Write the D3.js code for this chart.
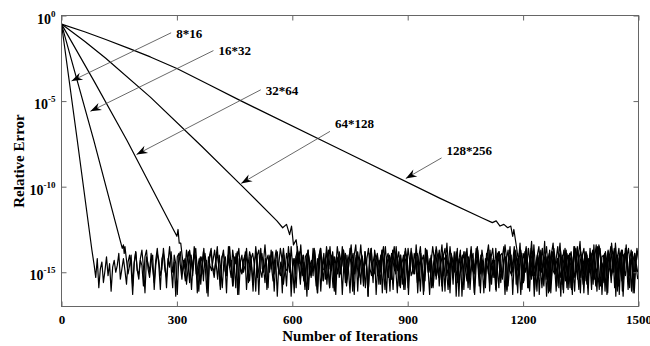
<!DOCTYPE html>
<html>
<head>
<meta charset="utf-8">
<script src="https://cdn.jsdelivr.net/npm/d3@7"></script>
<style>
  body { margin: 0; background: #fff; }
  svg { display: block; }
  text { font-family: "Liberation Serif", "Times New Roman", serif; font-weight: bold; fill: #000; }
</style>
</head>
<body>
<svg id="chart" width="650" height="346"></svg>
<script>
// ---- data -------------------------------------------------------------
const gridNames = ["8*16", "16*32", "32*64", "64*128", "128*256"];
const xTickValues = [0, 300, 600, 900, 1200, 1500];
const yTickExponents = [0, -5, -10, -15];

// convergence phase: [iteration, log10(relative error)]
const decay8x16   = [[0, -0.5], [41, -7.29], [79, -13.7]];
const decay16x32  = [[0, -0.5], [84, -7.29], [158, -13.6], [161, -13.4], [163, -13.9]];
const decay32x64  = [[0, -0.5], [85, -3.85], [170, -7.29], [300, -12.9], [303, -12.5], [306, -13.3]];
const decay64x128 = [[0, -0.5], [60, -1.5], [115, -2.5], [231, -4.77], [365, -7.65], [469, -9.95],
                     [560, -12.0], [575, -12.4], [585, -12.2], [593, -12.8], [598, -12.3], [603, -13.4]];
const decay128x256 = [[0, -0.5], [60, -0.95], [115, -1.4], [175, -1.92], [231, -2.42], [300, -3.1],
                      [380, -4.0], [464, -4.96], [729, -7.87], [983, -10.67], [1095, -11.84], [1120, -12.1],
                      [1130, -12.0], [1140, -12.3], [1150, -12.2], [1160, -12.4], [1168, -12.3],
                      [1173, -12.9], [1176, -12.5]];

// round-off plateau: exponent magnitudes (error = 10^-v), one sample every 4 iterations
const floorStep = 4;
const floorStart = [85, 165, 310, 610, 1180];
const floor8x16 = [
  14.6,15.3,14.2,15.9,14.8,14.4,15.6,14.9,14.1,15.2,14.5,16.1,14.7,14.3,15.0,14.6,13.9,15.4,14.8,14.2,
  14.9,15.7,14.4,14.0,14.7,16.3,14.5,13.8,14.9,15.1,14.3,14.6,15.8,14.1,13.7,14.8,15.3,14.4,14.0,16.0,
  14.6,13.9,14.3,15.2,14.8,13.6,14.5,15.9,14.2,14.7,13.8,15.0,14.4,16.4,14.1,13.9,14.6,15.4,14.3,14.8,
  13.7,14.5,15.6,14.0,14.9,13.5,14.2,16.2,14.6,14.1,15.1,13.8,14.7,14.3,15.7,14.0,13.6,14.8,15.3,14.4,
  13.9,14.6,16.0,14.2,13.7,14.9,15.2,14.3,13.5,14.7,15.8,14.1,14.5,13.8,16.3,14.4,14.0,15.0,14.6,13.6,
  14.8,15.5,14.2,13.9,14.5,16.1,14.0,13.7,14.9,15.3,14.4,13.4,14.6,15.9,14.1,14.8,13.8,15.1,14.3,16.4,
  14.5,13.6,14.2,15.7,14.9,13.9,14.4,15.0,13.5,14.7,16.2,14.1,13.8,14.6,15.4,14.3,14.0,15.8,14.5,13.7,
  14.9,15.2,14.2,13.6,14.7,16.0,14.4,13.9,15.5,14.1,14.8,13.5,14.3,15.9,14.6,13.8,14.9,16.3,14.2,14.0,
  15.1,14.5,13.7,14.8,15.6,14.3,13.9,14.6,16.1,14.0,13.4,14.7,15.3,14.4,14.1,15.8,13.8,14.5,16.4,14.2,
  13.6,14.9,15.0,14.3,13.9,14.6,15.7,14.1,13.5,14.8,16.2,14.4,14.0,15.4,13.7,14.6,15.1,14.2,13.8,15.9,
  14.5,14.0,16.0,14.7,13.6,14.3,15.2,14.9,13.9,14.4,15.6,14.1,13.5,14.8,16.3,14.2,13.8,15.0,14.6,14.0,
  15.8,14.4,13.7,14.9,15.3,14.2,13.4,14.6,16.1,14.0,14.7,15.5,13.9,14.3,15.0,14.8,13.6,16.4,14.5,14.1,
  15.2,13.8,14.6,15.9,14.3,13.7,14.9,15.1,14.0,13.5,14.5,16.2,14.2,14.8,15.4,13.9,14.4,15.7,14.1,13.6,
  14.7,16.0,14.3,13.8,14.9,15.3,14.5,13.4,14.2,15.8,14.6,14.0,16.3,14.4,13.7,14.8,15.0,14.1,13.9,15.6,
  14.5,13.6,14.9,16.1,14.2,13.8,14.6,15.2,14.0,13.5,14.7,15.9,14.3,14.1,16.4,14.8,13.7,15.4,14.4,14.0,
  15.1,14.6,13.9,14.2,15.7,14.8,13.6,14.5,16.0,14.1,13.8,14.9,15.3,14.3,13.5,14.7,16.2,14.0,14.4,15.5,
  13.9,14.6,15.0,14.2,13.7,14.8,15.8,14.4,13.4,14.1,16.3,14.7,14.0,15.2,13.8,14.5,15.6,14.3,13.6,14.9,
  16.1,14.2,13.9,14.6,15.4,14.0,13.7,14.8,15.9,14.3,14.1,16.2,14.5,13.8
];
const floor16x32 = [
  13.5,14.3,15.1,14.6,14.0,15.8,14.4,13.8,14.9,15.4,14.2,13.7,14.7,16.2,14.1,14.5,15.0,13.9,14.8,15.6,
  14.3,13.6,14.6,16.0,14.2,13.9,14.9,15.3,14.4,13.5,14.7,15.9,14.0,14.5,16.3,14.1,13.8,15.1,14.6,14.2,
  15.7,14.8,13.7,14.3,15.2,14.0,13.6,14.9,16.1,14.4,14.1,15.5,13.9,14.6,16.4,14.2,13.8,14.7,15.0,14.3,
  13.5,14.8,15.8,14.1,13.9,14.5,16.2,14.0,14.7,15.3,13.7,14.4,15.9,14.2,13.6,14.9,15.1,14.3,14.0,16.0,
  14.6,13.8,14.2,15.4,14.8,13.5,14.4,16.3,14.1,13.9,14.7,15.6,14.3,14.0,15.0,13.7,14.5,16.1,14.2,13.8,
  14.9,15.2,14.4,13.6,14.6,15.8,14.1,13.9,16.4,14.7,14.2,15.1,13.5,14.5,15.7,14.0,14.8,16.0,14.3,13.7,
  14.6,15.3,14.2,13.9,14.9,16.2,14.1,13.6,14.5,15.5,14.4,13.8,14.8,15.9,14.0,14.3,16.1,14.7,13.5,14.2,
  15.0,14.6,13.7,14.4,15.8,14.9,14.1,13.4,14.7,16.3,14.3,13.9,15.2,14.5,14.0,15.6,13.8,14.6,16.4,14.2,
  13.6,14.8,15.1,14.3,14.0,15.7,14.5,13.7,14.9,16.0,14.2,13.9,14.6,15.4,14.1,13.5,14.8,16.2,14.4,14.0,
  15.3,14.7,13.8,14.2,15.9,14.5,13.6,14.9,15.0,14.1,13.9,14.6,16.1,14.3,14.0,15.5,13.7,14.8,16.3,14.4,
  13.5,14.2,15.2,14.7,13.9,14.4,15.8,14.0,13.6,14.9,16.0,14.5,14.1,15.1,13.8,14.6,15.6,14.3,13.7,16.4,
  14.8,14.1,13.9,15.4,14.5,13.5,14.7,16.2,14.2,14.0,15.0,14.9,13.7,14.4,15.7,14.1,13.8,16.1,14.6,14.3,
  15.3,13.6,14.8,15.9,14.0,13.9,14.5,16.3,14.2,13.7,14.9,15.1,14.4,13.5,14.6,15.8,14.1,14.0,16.0,14.7,
  13.8,14.3,15.5,14.9,13.6,14.2,16.4,14.5,14.0,15.2,13.9,14.7,15.7,14.1,13.5,14.8,16.1,14.3,13.8,15.0,
  14.6,14.2,15.9,13.7,14.4,16.2,14.0,14.8,15.3,13.9,14.5,15.6,14.1,13.6,14.9,16.0,14.3,14.0,15.1,13.8,
  14.7,16.3,14.2,13.9,14.6,15.4,14.4,13.5,14.8,15.8,14.1,14.0,16.1,14.5,13.7,14.3,15.2,14.9,13.8,16.4,
  14.2,13.6,14.7,15.5,14.0,13.9,14.5,16.0,14.3,13.7,14.8,15.1,14.1,13.8
];
const floor32x64 = [
  13.3,14.1,14.8,15.5,14.3,13.8,14.6,16.0,14.4,13.9,15.1,14.7,14.2,15.7,14.5,13.6,14.8,16.2,14.1,14.6,
  14.9,14.3,13.7,14.5,15.4,14.0,14.8,15.9,14.4,14.1,15.2,13.5,14.7,14.3,15.8,14.6,13.9,16.3,14.2,14.8,
  15.0,14.5,13.8,14.4,15.6,14.1,14.7,16.1,14.3,13.9,15.3,14.6,13.6,14.8,15.0,14.2,16.0,14.5,14.0,14.7,
  15.5,14.3,13.7,14.6,15.1,14.4,16.2,14.0,14.8,14.9,13.5,14.5,15.7,14.2,14.7,15.9,14.1,13.8,14.6,15.2,
  14.4,14.8,16.4,14.0,14.5,15.0,13.6,14.7,15.8,14.2,14.3,16.1,14.6,13.9,15.4,14.4,13.7,14.8,14.9,14.1,
  16.0,14.5,14.2,15.3,14.7,13.5,14.4,15.6,14.0,14.8,16.2,14.3,13.9,15.1,14.6,13.8,14.5,15.7,14.1,14.7,
  15.9,14.2,13.6,14.8,15.2,14.4,14.0,16.3,14.6,14.3,15.0,13.7,14.5,15.5,14.1,14.7,16.1,13.9,14.4,14.9,
  13.5,14.6,15.8,14.2,14.8,16.0,14.3,14.0,15.3,14.7,13.8,14.5,15.1,14.1,16.2,14.6,13.9,14.8,15.6,13.6,
  14.4,14.9,14.2,15.9,14.7,14.0,15.4,14.5,13.7,14.8,16.1,14.3,14.1,15.2,14.6,13.5,14.4,15.7,13.9,16.4,
  14.7,14.2,15.0,14.5,13.8,14.8,15.5,14.1,16.0,14.6,14.3,14.9,13.6,14.4,15.8,14.0,14.7,16.2,14.2,14.5,
  15.1,13.7,14.8,15.3,14.3,15.9,13.9,14.6,15.6,14.1,13.5,14.7,16.1,14.4,14.0,15.2,14.5,13.8,15.7,14.2,
  14.8,16.3,14.3,13.9,15.0,14.6,13.6,14.4,15.4,14.1,16.0,14.7,14.2,14.9,13.7,14.5,15.8,14.0,14.6,16.2,
  14.3,13.8,14.9,15.1,14.2,13.5,14.7,16.4,14.0,14.5,15.5,13.9,14.4,15.9,14.1,14.8,16.1,14.3,13.7,14.6,
  15.3,14.0,13.6,14.8,15.7,14.2,14.5,16.0,13.8,14.4,15.0,14.7,13.5,14.1,15.6,14.9,14.3,16.3,13.9,14.6,
  15.2,14.1,13.7,14.8,15.8,14.4,14.0,16.1,14.6,13.6,14.3,15.4,14.7,14.2,16.2,13.9,14.5,15.0
];
const floor64x128 = [
  13.1,13.8,14.5,13.4,14.7,15.5,14.1,13.9,16.0,14.6,14.3,15.2,13.7,14.5,16.2,14.0,13.6,14.9,14.8,14.2,
  15.7,14.4,13.5,14.7,15.9,14.1,14.6,15.1,13.8,14.3,16.3,14.5,13.9,15.4,14.8,13.6,14.2,15.8,14.7,14.0,
  16.1,14.4,13.4,14.6,15.0,14.2,14.8,15.9,13.9,14.5,15.6,13.7,14.3,15.2,14.7,14.0,16.2,14.4,13.5,14.8,
  15.3,14.1,14.6,16.0,14.3,13.8,14.9,14.5,14.0,15.7,14.7,13.6,14.2,16.3,14.4,13.9,15.1,14.8,13.4,14.6,
  15.5,14.2,14.7,16.1,14.0,13.7,14.5,15.0,14.3,15.9,14.8,13.5,14.1,15.8,14.6,13.9,15.2,14.4,13.3,14.7,
  16.2,14.1,14.5,14.9,13.8,14.3,15.6,14.7,14.0,16.0,14.4,13.6,14.8,15.3,14.2,13.9,16.3,14.6,13.7,14.5,
  15.1,14.3,14.8,15.9,14.0,13.4,14.6,15.7,14.2,14.5,16.1,13.9,13.8,14.7,15.4,14.3,14.1,16.0,14.4,13.5,
  14.8,15.0,14.2,14.6,16.2,13.9,13.7,14.4,15.5,14.1,14.7,15.9,14.3,13.2,14.5,15.2,14.8,14.0,16.3,14.4,
  13.6,14.7,14.9,14.1,14.5,15.8,13.9,13.3,14.6,16.1,14.2,14.8,15.3,14.4,13.7,14.5,15.9,14.0,14.7,16.0,
  14.3,13.5,14.8,15.4,14.1,13.8,14.6,16.2,14.4,14.0,15.1,13.6,14.7,15.7,14.2,13.4,14.9,16.0,14.3,14.5,
  15.6,13.8,14.4,15.0,14.7,13.3,14.2,15.9,14.6,14.0,16.3,14.4,13.7,14.8,15.2,14.1,13.6,14.5,16.1,14.3,
  13.9,14.7,15.4
];
const floor128x256 = [
  13.1,13.7,14.4,13.3,14.8,15.6,14.1,13.5,15.9,14.5,14.0,15.2,13.4,14.7,16.1,14.2,13.8,15.0,14.6,13.2,
  15.4,14.3,13.9,16.2,14.7,13.6,14.4,15.8,14.1,13.3,14.8,16.0,14.5,13.7,15.1,14.2,14.6,16.3,13.5,14.4,
  14.9,14.0,13.2,14.7,15.7,14.3,13.8,15.9,14.5,14.1,15.3,13.4,14.8,16.1,14.2,13.6,14.6,15.5,13.9,14.4,
  16.2,14.1,13.5,14.7,15.0,13.3,14.4,15.8,14.0,13.7,16.4,14.6,13.4,14.9,15.2,14.2,13.8,16.0,14.5,13.6,
  14.3
];

const decays = [decay8x16, decay16x32, decay32x64, decay64x128, decay128x256];
const floors = [floor8x16, floor16x32, floor32x64, floor64x128, floor128x256];

// ---- layout -----------------------------------------------------------
const plot = { left: 61.5, right: 638.5, top: 15.5, bottom: 306.5 };

// annotation placement in data units: label, arrow tail, arrow tip ([iteration, log10])
const annotations = [
  { text: [298, -1.07], tail: [285, -1.01], tip: [26, -3.83] },
  { text: [408, -2.05], tail: [395, -2.05], tip: [75, -5.6] },
  { text: [531, -4.38], tail: [518, -4.34], tip: [195, -8.12] },
  { text: [711, -6.28], tail: [698, -6.77], tip: [467, -9.81] },
  { text: [1001, -7.87], tail: [988, -8.32], tip: [895, -9.52] }
];

const svg = d3.select("#chart");

const x = d3.scaleLinear().domain([0, 1500]).range([plot.left, plot.right]);
const y = d3.scaleLog().domain([1e-17, 1]).range([plot.bottom, plot.top]);

const defs = svg.append("defs");
defs.append("clipPath").attr("id", "plotClip")
  .append("rect")
  .attr("x", plot.left).attr("y", plot.top)
  .attr("width", plot.right - plot.left).attr("height", plot.bottom - plot.top);

defs.append("marker")
  .attr("id", "arrowHead")
  .attr("viewBox", "-12 -5 13 10")
  .attr("refX", 0).attr("refY", 0)
  .attr("markerWidth", 13).attr("markerHeight", 10)
  .attr("markerUnits", "userSpaceOnUse")
  .attr("orient", "auto")
  .append("path")
  .attr("d", "M0,0 L-11,-4 L-7.5,0 L-11,4 Z")
  .attr("fill", "#000");

// ---- curves: convergence segment followed by the noisy plateau ---------
const series = decays.map((d, s) => {
  const pts = d.map(([it, e]) => [it, Math.pow(10, e)]);
  floors[s].forEach((v, k) => pts.push([floorStart[s] + k * floorStep, Math.pow(10, -v)]));
  return pts;
});

const line = d3.line().x(d => x(d[0])).y(d => y(d[1]));

svg.append("g").attr("clip-path", "url(#plotClip)")
  .selectAll("path").data(series).join("path")
  .attr("d", line)
  .attr("fill", "none")
  .attr("stroke", "#000")
  .attr("stroke-width", 1.2)
  .attr("stroke-linejoin", "round");

// ---- axes -------------------------------------------------------------
const axisColor = "#666";

function styleAxis(g) {
  g.select(".domain").remove();
  g.selectAll(".tick line").attr("stroke", axisColor).attr("stroke-width", 1);
}

svg.append("g").attr("transform", `translate(0,${plot.bottom})`)
  .call(d3.axisBottom(x).tickValues(xTickValues).tickFormat(d3.format("d"))
    .tickSizeInner(-5).tickSizeOuter(0).tickPadding(8))
  .call(styleAxis)
  .call(g => g.selectAll(".tick text").attr("font-size", 13).attr("fill", "#000"));

svg.append("g").attr("transform", `translate(0,${plot.top})`)
  .call(d3.axisTop(x).tickValues(xTickValues).tickSizeInner(-5).tickSizeOuter(0).tickFormat(""))
  .call(styleAxis);

const yTickValues = yTickExponents.map(e => Math.pow(10, e));

svg.append("g").attr("transform", `translate(${plot.left},0)`)
  .call(d3.axisLeft(y).tickValues(yTickValues).tickSizeInner(-5).tickSizeOuter(0).tickFormat(""))
  .call(styleAxis);

svg.append("g").attr("transform", `translate(${plot.right},0)`)
  .call(d3.axisRight(y).tickValues(yTickValues).tickSizeInner(-5).tickSizeOuter(0).tickFormat(""))
  .call(styleAxis);

// y tick labels: 10 with a superscript exponent
const yLabels = svg.append("g").selectAll("text").data(yTickExponents).join("text")
  .attr("x", 55.5)
  .attr("y", e => y(Math.pow(10, e)) + 8)
  .attr("text-anchor", "end");
yLabels.append("tspan").attr("font-size", 14).text("10");
yLabels.append("tspan").attr("font-size", 9).attr("dy", -7).text(e => String(e));

// frame
svg.append("rect")
  .attr("x", plot.left).attr("y", plot.top)
  .attr("width", plot.right - plot.left).attr("height", plot.bottom - plot.top)
  .attr("fill", "none").attr("stroke", axisColor).attr("stroke-width", 1);

// axis titles
svg.append("text")
  .attr("x", (plot.left + plot.right) / 2).attr("y", 341)
  .attr("text-anchor", "middle").attr("font-size", 15)
  .text("Number of Iterations");

svg.append("text")
  .attr("transform", `translate(23.5,${(plot.top + plot.bottom) / 2}) rotate(-90)`)
  .attr("text-anchor", "middle").attr("font-size", 15)
  .text("Relative Error");

// ---- annotations ------------------------------------------------------
const px = p => [x(p[0]), y(Math.pow(10, p[1]))];

const ann = svg.append("g");
annotations.forEach((a, i) => {
  const [tx, ty] = px(a.tail);
  const [hx, hy] = px(a.tip);
  ann.append("line")
    .attr("x1", tx).attr("y1", ty).attr("x2", hx).attr("y2", hy)
    .attr("stroke", "#444").attr("stroke-width", 0.8)
    .attr("marker-end", "url(#arrowHead)");
  const [lx, ly] = px(a.text);
  ann.append("text")
    .attr("x", lx).attr("y", ly).attr("dy", "0.35em")
    .attr("font-size", 13)
    .text(gridNames[i]);
});
</script>
</body>
</html>
